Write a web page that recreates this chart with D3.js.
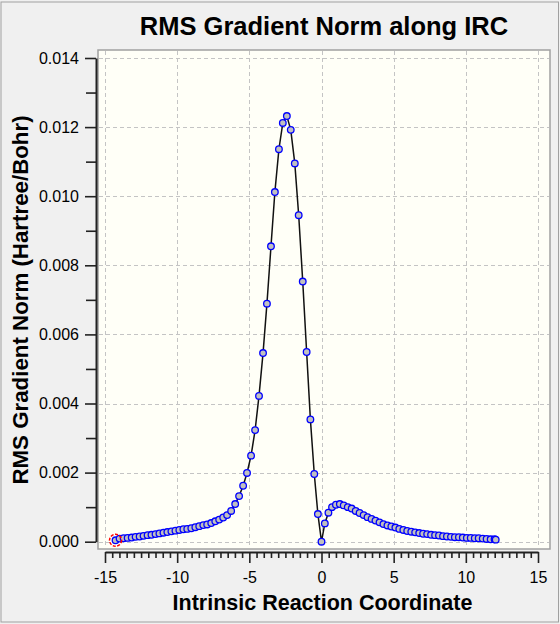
<!DOCTYPE html>
<html>
<head>
<meta charset="utf-8">
<script src="https://cdn.jsdelivr.net/npm/d3@7"></script>
<style>
  html, body { margin: 0; padding: 0; background: #f0f0f0; }
  svg { display: block; font-family: "Liberation Sans", Arial, sans-serif; }
</style>
</head>
<body>
<svg id="chart" width="560" height="624"></svg>
<script>
// ---- data ----
const title = "RMS Gradient Norm along IRC";
const xLabel = "Intrinsic Reaction Coordinate";
const yLabel = "RMS Gradient Norm (Hartree/Bohr)";

const irc = [
  -14.27, -13.99, -13.71, -13.43, -13.15, -12.88, -12.60, -12.33, -12.05, -11.78,
  -11.50, -11.23, -10.95, -10.68, -10.40, -10.12, -9.85, -9.57, -9.30, -9.02,
  -8.74, -8.47, -8.19, -7.92, -7.64, -7.36, -7.09, -6.81, -6.54, -6.26,
  -5.98, -5.71, -5.43, -5.16, -4.88, -4.60, -4.33, -4.05, -3.78, -3.50,
  -3.23, -2.95, -2.68, -2.40, -2.13, -1.85, -1.58, -1.30, -1.03, -0.77,
  -0.50, -0.25, 0.00, 0.23, 0.48, 0.73, 1.00, 1.27, 1.54, 1.82,
  2.09, 2.37, 2.64, 2.92, 3.19, 3.47, 3.74, 4.02, 4.29, 4.57,
  4.84, 5.12, 5.39, 5.67, 5.94, 6.22, 6.49, 6.77, 7.04, 7.32,
  7.59, 7.87, 8.14, 8.42, 8.69, 8.97, 9.24, 9.52, 9.79, 10.07,
  10.34, 10.62, 10.89, 11.17, 11.44, 11.72, 11.99, 12.07
];
const gradNorm = [
  0.00004, 0.00009, 0.00010, 0.00011, 0.00012, 0.00014, 0.00015, 0.00017, 0.00019, 0.00020,
  0.00022, 0.00024, 0.00026, 0.00028, 0.00030, 0.00032, 0.00034, 0.00036, 0.00037, 0.00039,
  0.00042, 0.00045, 0.00048, 0.00050, 0.00054, 0.00059, 0.00064, 0.00070, 0.00077, 0.00089,
  0.00109, 0.00132, 0.00162, 0.00199, 0.00249, 0.00323, 0.00422, 0.00546, 0.00689, 0.00855,
  0.01012, 0.01136, 0.01212, 0.01232, 0.01192, 0.01095, 0.00945, 0.00753, 0.00549, 0.00354,
  0.00196, 0.00080, 0.00000, 0.00053, 0.00084, 0.00100, 0.00107, 0.00109, 0.00105, 0.00100,
  0.00096, 0.00089, 0.00083, 0.00077, 0.00071, 0.00066, 0.00061, 0.00056, 0.00051, 0.00047,
  0.00044, 0.00041, 0.00037, 0.00034, 0.00031, 0.00029, 0.00027, 0.00025, 0.00023, 0.00022,
  0.00020, 0.00019, 0.00018, 0.00016, 0.00015, 0.00014, 0.00013, 0.00013, 0.00012, 0.00011,
  0.00011, 0.00010, 0.00010, 0.00009, 0.00008, 0.00007, 0.00007, 0.00006
];
const highlightIndex = 0;

const xTicks = [-15, -10, -5, 0, 5, 10, 15];
const xMinorTicks = [-14.5,-14,-13.5,-13,-12.5,-12,-11.5,-11,-10.5,-9.5,-9,-8.5,-8,-7.5,-7,-6.5,-6,-5.5,
  -4.5,-4,-3.5,-3,-2.5,-2,-1.5,-1,-0.5,0.5,1,1.5,2,2.5,3,3.5,4,4.5,5.5,6,6.5,7,7.5,8,8.5,9,9.5,
  10.5,11,11.5,12,12.5,13,13.5,14,14.5];
const yTicks = [0.000, 0.002, 0.004, 0.006, 0.008, 0.010, 0.012, 0.014];
const yMinorTicks = [0.001, 0.003, 0.005, 0.007, 0.009, 0.011, 0.013];

// ---- layout ----
const W = 560, H = 624;
const plot = { left: 98, top: 50, right: 550, bottom: 549 };
const svg = d3.select("#chart");

const x = d3.scaleLinear().domain([-15, 15]).range([105, 538]);
const y = d3.scaleLinear().domain([0, 0.014]).range([541.7, 58]);

// outer frame
svg.append("rect").attr("x", 0).attr("y", 0).attr("width", W).attr("height", H).attr("fill", "#f0f0f0");
svg.append("rect").attr("x", 1).attr("y", 2).attr("width", 557.5).attr("height", 620)
  .attr("fill", "none").attr("stroke", "#a0a0a0").attr("stroke-width", 1);

// plot area
svg.append("rect")
  .attr("x", plot.left).attr("y", plot.top)
  .attr("width", plot.right - plot.left).attr("height", plot.bottom - plot.top)
  .attr("fill", "#fffff7").attr("stroke", "#a0a0a0").attr("stroke-width", 1.5);

// grid
const grid = svg.append("g").attr("stroke", "#c4c4c4").attr("stroke-width", 1)
  .attr("stroke-dasharray", "4,3").attr("fill", "none");
grid.selectAll("line.v").data(xTicks).join("line").attr("class", "v")
  .attr("x1", d => Math.round(x(d)) + 0.5).attr("x2", d => Math.round(x(d)) + 0.5)
  .attr("y1", plot.top + 1).attr("y2", plot.bottom - 1);
grid.selectAll("line.h").data(yTicks).join("line").attr("class", "h")
  .attr("y1", d => Math.round(y(d)) + 0.5).attr("y2", d => Math.round(y(d)) + 0.5)
  .attr("x1", plot.left + 1).attr("x2", plot.right - 1);

// y axis
const yAxisX = 96;
svg.append("g").attr("transform", `translate(${yAxisX},0)`)
  .call(d3.axisLeft(y).tickValues(yTicks).tickSize(11).tickSizeOuter(0).tickPadding(6)
    .tickFormat(d3.format(".3f")));
svg.append("g").attr("transform", `translate(${yAxisX},0)`)
  .call(d3.axisLeft(y).tickValues(yMinorTicks).tickSize(10).tickSizeOuter(0).tickFormat(""))
  .call(g => g.select(".domain").remove());

// x axis
const xAxisY = 552;
svg.append("g").attr("transform", `translate(0,${xAxisY})`)
  .call(d3.axisBottom(x).tickValues(xTicks).tickSize(11).tickSizeOuter(0).tickPadding(9)
    .tickFormat(d => String(d)));
svg.append("g").attr("transform", `translate(0,${xAxisY})`)
  .call(d3.axisBottom(x).tickValues(xMinorTicks).tickSize(6).tickSizeOuter(0).tickFormat(""))
  .call(g => g.select(".domain").remove());

svg.selectAll(".domain").attr("stroke", "#222").attr("stroke-width", 2);
svg.selectAll(".tick line").attr("stroke", "#222").attr("stroke-width", 1.6);
svg.selectAll(".tick text").attr("fill", "#000").attr("font-size", 16)
  .attr("font-family", "'Liberation Sans', Arial, sans-serif");

// data line
const pts = irc.map((v, i) => ({ x: v, y: gradNorm[i] }));
svg.append("path").datum(pts)
  .attr("fill", "none").attr("stroke", "#111").attr("stroke-width", 1.5)
  .attr("d", d3.line().x(d => x(d.x)).y(d => y(d.y)));

// markers
svg.append("g").selectAll("circle").data(pts).join("circle")
  .attr("cx", d => x(d.x)).attr("cy", d => y(d.y)).attr("r", 3.3)
  .attr("fill", "#c0c0c0").attr("stroke", "#0000ff").attr("stroke-width", 1.3);

// highlighted starting point
svg.append("circle")
  .attr("cx", x(pts[highlightIndex].x)).attr("cy", y(pts[highlightIndex].y)).attr("r", 6)
  .attr("fill", "none").attr("stroke", "#ff0000").attr("stroke-width", 1.5)
  .attr("stroke-dasharray", "3,1.5");

// titles
svg.append("text").attr("x", 324).attr("y", 35).attr("text-anchor", "middle")
  .attr("font-size", 25.5).attr("font-weight", "bold").attr("fill", "#000").text(title);
svg.append("text").attr("x", 322.5).attr("y", 610).attr("text-anchor", "middle")
  .attr("font-size", 21.5).attr("font-weight", "bold").attr("fill", "#000").text(xLabel);
svg.append("text").attr("transform", "translate(28,300) rotate(-90)").attr("text-anchor", "middle")
  .attr("font-size", 22.3).attr("font-weight", "bold").attr("fill", "#000").text(yLabel);
</script>
</body>
</html>
